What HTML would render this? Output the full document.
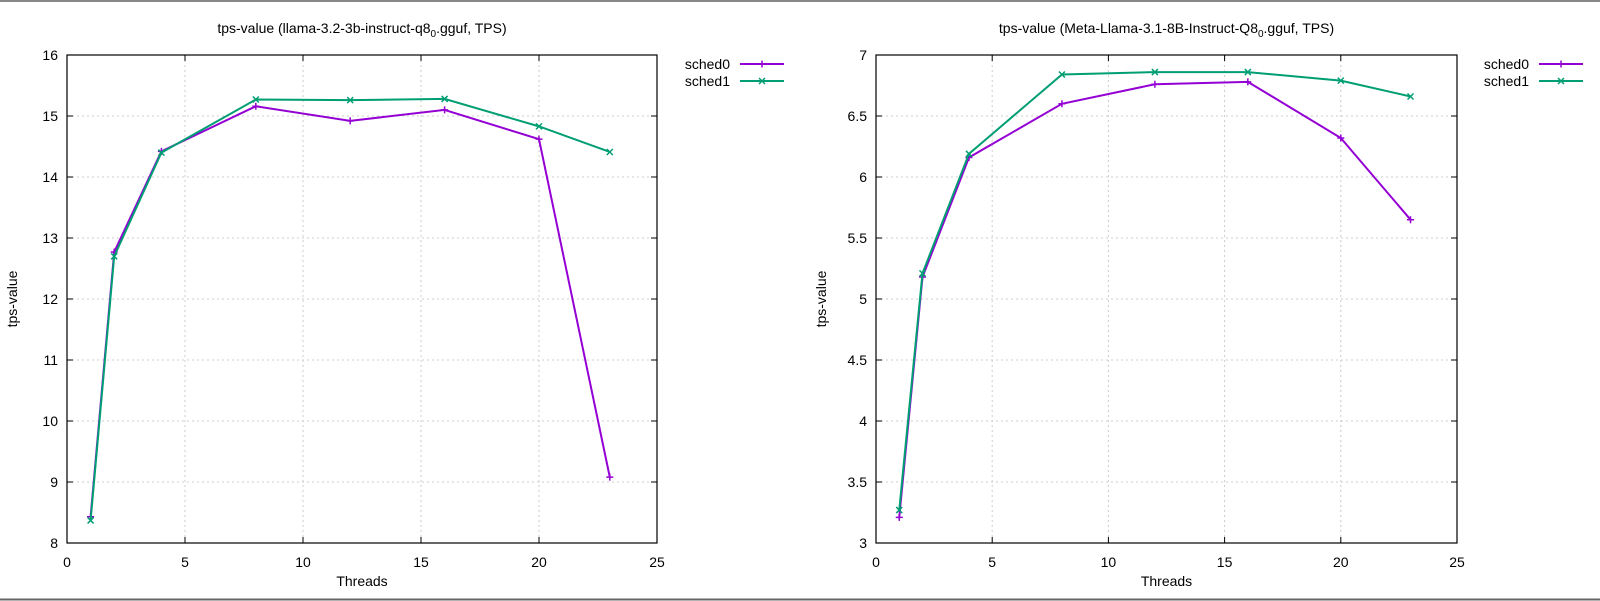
<!DOCTYPE html>
<html><head><meta charset="utf-8"><style>
html,body{margin:0;padding:0;background:#fff;}
svg{display:block;font-family:"Liberation Sans",sans-serif;}
</style></head><body>
<svg id="s" width="1600" height="601" viewBox="0 0 1600 601" xmlns="http://www.w3.org/2000/svg">
<rect width="1600" height="601" fill="#fff"/>
<line x1="0" y1="1" x2="1600" y2="1" stroke="#888" stroke-width="2"/>
<line x1="0" y1="599.5" x2="1600" y2="599.5" stroke="#666" stroke-width="2"/>
</svg>
<script>
const NS="http://www.w3.org/2000/svg",S=document.getElementById('s');
function el(t,a,txt){const e=document.createElementNS(NS,t);for(const k in a)e.setAttribute(k,a[k]);if(txt!==undefined)e.textContent=txt;S.appendChild(e);return e;}
const X=[1,2,4,8,12,16,20,23];
function plot(o){
 const {x0,x1,y0,y1,ymin,ymax,ystep,ylab,title,d0,d1,lx}=o;
 const sx=v=>x0+(x1-x0)*v/25, sy=v=>y1-(y1-y0)*(v-ymin)/(ymax-ymin);
 for(let v=0;v<=25;v+=5){const x=sx(v);
  if(v>0&&v<25)el('line',{x1:x,y1:y0,x2:x,y2:y1,stroke:'#ccc','stroke-dasharray':'2,3','stroke-width':1});
  el('line',{x1:x,y1:y1,x2:x,y2:y1-6,stroke:'#000'});el('line',{x1:x,y1:y0,x2:x,y2:y0+6,stroke:'#000'});
  el('text',{x:x,y:y1+24,'font-size':14,'text-anchor':'middle'},String(v));}
 for(let v=ymin;v<=ymax+1e-9;v+=ystep){const y=sy(v);
  if(v>ymin&&v<ymax-1e-9)el('line',{x1:x0,y1:y,x2:x1,y2:y,stroke:'#ccc','stroke-dasharray':'2,3','stroke-width':1});
  el('line',{x1:x0,y1:y,x2:x0+6,y2:y,stroke:'#000'});el('line',{x1:x1,y1:y,x2:x1-6,y2:y,stroke:'#000'});
  el('text',{x:x0-9,y:y+5,'font-size':14,'text-anchor':'end'},String(Math.round(v*10)/10));}
 el('rect',{x:x0,y:y0,width:x1-x0,height:y1-y0,fill:'none',stroke:'#000','stroke-width':1.2});
 const t=el('text',{x:(x0+x1)/2,y:33,'font-size':14,'text-anchor':'middle'});
 t.innerHTML=title;
 el('text',{x:(x0+x1)/2,y:586,'font-size':14,'text-anchor':'middle'},'Threads');
 el('text',{x:0,y:0,'font-size':14,'text-anchor':'middle',transform:`translate(${x0-50},${(y0+y1)/2}) rotate(-90)`},'tps-value');
 const cols=['#9400d3','#009e73'];
 [d0,d1].forEach((d,i)=>{
  el('polyline',{points:X.map((x,j)=>sx(x)+','+sy(d[j])).join(' '),fill:'none',stroke:cols[i],'stroke-width':2});
  X.forEach((x,j)=>mark(sx(x),sy(d[j]),i,cols[i]));
  const ly=64+i*17;
  el('text',{x:lx,y:ly+5,'font-size':14,'text-anchor':'end'},'sched'+i);
  el('line',{x1:lx+10,y1:ly,x2:lx+54,y2:ly,stroke:cols[i],'stroke-width':2});
  mark(lx+32,ly,i,cols[i]);
 });
}
function mark(x,y,i,c){
 if(i==0){el('path',{d:`M${x-3.5},${y}h7M${x},${y-3.5}v7`,stroke:c,'stroke-width':1.5});}
 else{el('path',{d:`M${x-3},${y-3}l6,6M${x-3},${y+3}l6,-6`,stroke:c,'stroke-width':1.5});}
}
plot({x0:67,x1:657,y0:55,y1:543,ymin:8,ymax:16,ystep:1,lx:730,
 title:'tps-value (llama-3.2-3b-instruct-q8<tspan font-size="10" dy="4">0</tspan><tspan dy="-4">.gguf, TPS)</tspan>',
 d0:[8.43,12.77,14.42,15.16,14.92,15.10,14.62,9.08],d1:[8.37,12.70,14.40,15.27,15.26,15.28,14.83,14.41]});
plot({x0:876,x1:1457,y0:55,y1:543,ymin:3,ymax:7,ystep:0.5,lx:1529,
 title:'tps-value (Meta-Llama-3.1-8B-Instruct-Q8<tspan font-size="10" dy="4">0</tspan><tspan dy="-4">.gguf, TPS)</tspan>',
 d0:[3.21,5.18,6.16,6.60,6.76,6.78,6.32,5.65],d1:[3.27,5.21,6.19,6.84,6.86,6.86,6.79,6.66]});
</script>
</body></html>
